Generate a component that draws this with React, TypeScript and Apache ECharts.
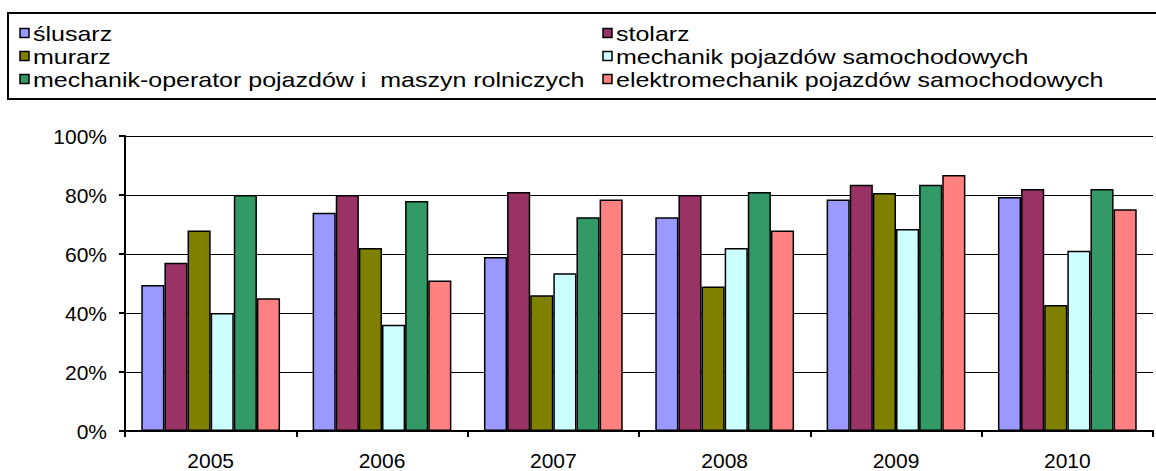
import React, { useEffect, useRef } from "react";
import * as echarts from "echarts";

const years = ["2005", "2006", "2007", "2008", "2009", "2010"];
const seriesNames = [
  "ślusarz",
  "stolarz",
  "murarz",
  "mechanik pojazdów samochodowych",
  "mechanik-operator pojazdów i  maszyn rolniczych",
  "elektromechanik pojazdów samochodowych",
];
const slusarz = [49.5, 74, 59, 72.5, 78.5, 79.3];
const stolarz = [57, 80, 81, 80, 83.5, 82];
const murarz = [68, 62, 46, 49, 80.7, 42.7];
const mechanikPojazdow = [40, 36, 53.5, 62, 68.5, 61.1];
const mechanikOperator = [80, 78, 72.5, 81, 83.5, 82];
const elektromechanik = [45, 51, 78.5, 68, 86.8, 75.2];
const seriesValues = [slusarz, stolarz, murarz, mechanikPojazdow, mechanikOperator, elektromechanik];
const colors = ["#9999FF", "#993366", "#808000", "#CCFFFF", "#339966", "#FF8080"];
const yTicks = [0, 20, 40, 60, 80, 100];

export default function App() {
  const ref = useRef<HTMLDivElement>(null);
  useEffect(() => {
    if (!ref.current) return;
    const chart = echarts.init(ref.current, null, { renderer: "svg" });
    const font = "'Liberation Sans', Arial, sans-serif";

    // legend layout: two columns, three rows (row-major order of series)
    const colX = [20, 603];
    const rowY = [33, 56, 79];
    const legendItems: any[] = [];
    seriesNames.forEach((name, i) => {
      const col = i % 2;
      const row = Math.floor(i / 2);
      legendItems.push({
        type: "rect",
        x: colX[col],
        y: rowY[row] - 4.5,
        shape: { x: 0, y: 0, width: 9, height: 9 },
        style: { fill: colors[i], stroke: "#000", lineWidth: 1.5 },
        silent: true,
      });
      legendItems.push({
        type: "text",
        x: colX[col] + 13,
        y: rowY[row] + 1,
        scaleX: 1.19,
        style: {
          text: name,
          fontFamily: font,
          fontSize: 21,
          fill: "#000",
          align: "left",
          verticalAlign: "middle",
        },
        silent: true,
      });
    });

    chart.setOption({
      animation: false,
      backgroundColor: "#fff",
      graphic: [
        {
          type: "rect",
          shape: { x: 8, y: 13, width: 1160, height: 86 },
          style: { fill: "none", stroke: "#000", lineWidth: 2 },
          silent: true,
        },
        ...legendItems,
      ],
      grid: { left: 125, right: 3, top: 136, bottom: 40, containLabel: false },
      xAxis: {
        type: "category",
        data: years,
        boundaryGap: true,
        axisLine: { show: true, lineStyle: { color: "#000", width: 2 } },
        axisTick: { show: true, length: 6, lineStyle: { color: "#000", width: 2 } },
        axisLabel: { fontFamily: font, fontSize: 21, color: "#000", margin: 19 },
      },
      yAxis: {
        type: "value",
        min: yTicks[0],
        max: yTicks[yTicks.length - 1],
        interval: 20,
        axisLine: { show: true, lineStyle: { color: "#000", width: 2 } },
        axisTick: { show: true, length: 6, lineStyle: { color: "#000", width: 2 } },
        splitLine: { show: true, lineStyle: { color: "#000", width: 1 } },
        axisLabel: { fontFamily: font, fontSize: 21, color: "#000", margin: 18, formatter: "{value}%" },
      },
      series: seriesNames.map((name, i) => ({
        name,
        type: "bar",
        data: seriesValues[i],
        barGap: "0%",
        barCategoryGap: "19%",
        itemStyle: { color: colors[i], borderColor: "#000", borderWidth: 1.5 },
      })),
    });
    return () => chart.dispose();
  }, []);
  return (
    <div
      ref={ref}
      style={{ position: "fixed", left: 0, top: 0, width: 1156, height: 471, background: "#fff" }}
    />
  );
}
